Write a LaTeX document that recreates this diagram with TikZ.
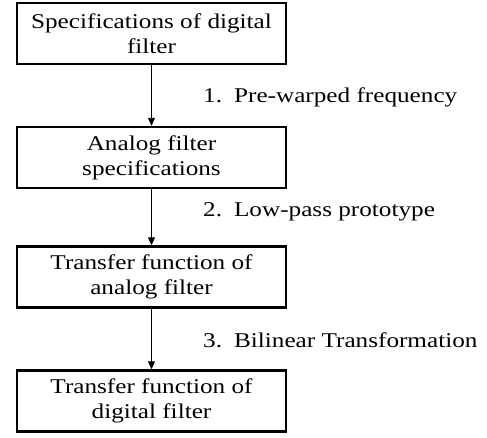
\documentclass[tikz,border=0pt]{standalone}
\usepackage{fontspec}
\setmainfont{Liberation Serif}[FakeStretch=1.2]
\usetikzlibrary{arrows.meta}
\begin{document}
\begin{tikzpicture}[x=1pt,y=-1pt,
  blockbox/.style={draw, line width=2.4pt, minimum width=269pt, minimum height=61pt,
    align=center, inner sep=0pt, font=\fontsize{21}{25}\selectfont},
  steplabel/.style={anchor=west, inner sep=0pt, font=\fontsize{21}{25}\selectfont},
  flow/.style={line width=0.9pt, -{Triangle[length=8pt,width=7pt]}}]
\useasboundingbox (0,0) rectangle (487,437);
\node[blockbox] (b1) at (151.5,33.5) {Specifications of digital\\filter};
\node[blockbox] (b2) at (151.5,157.5) {Analog filter\\specifications};
\node[blockbox] (b3) at (151.5,277) {Transfer function of\\analog filter};
\node[blockbox] (b4) at (151.5,401) {Transfer function of\\digital filter};
\draw[flow] (b1) -- (b2);
\draw[flow] (b2) -- (b3);
\draw[flow] (b3) -- (b4);
\node[steplabel] (l1) at (203,97) {1.\hspace{12pt}Pre-warped frequency};
\node[steplabel] (l2) at (203,212) {2.\hspace{12pt}Low-pass prototype};
\node[steplabel] (l3) at (203,340) {3.\hspace{12pt}Bilinear Transformation};
\end{tikzpicture}
\end{document}
